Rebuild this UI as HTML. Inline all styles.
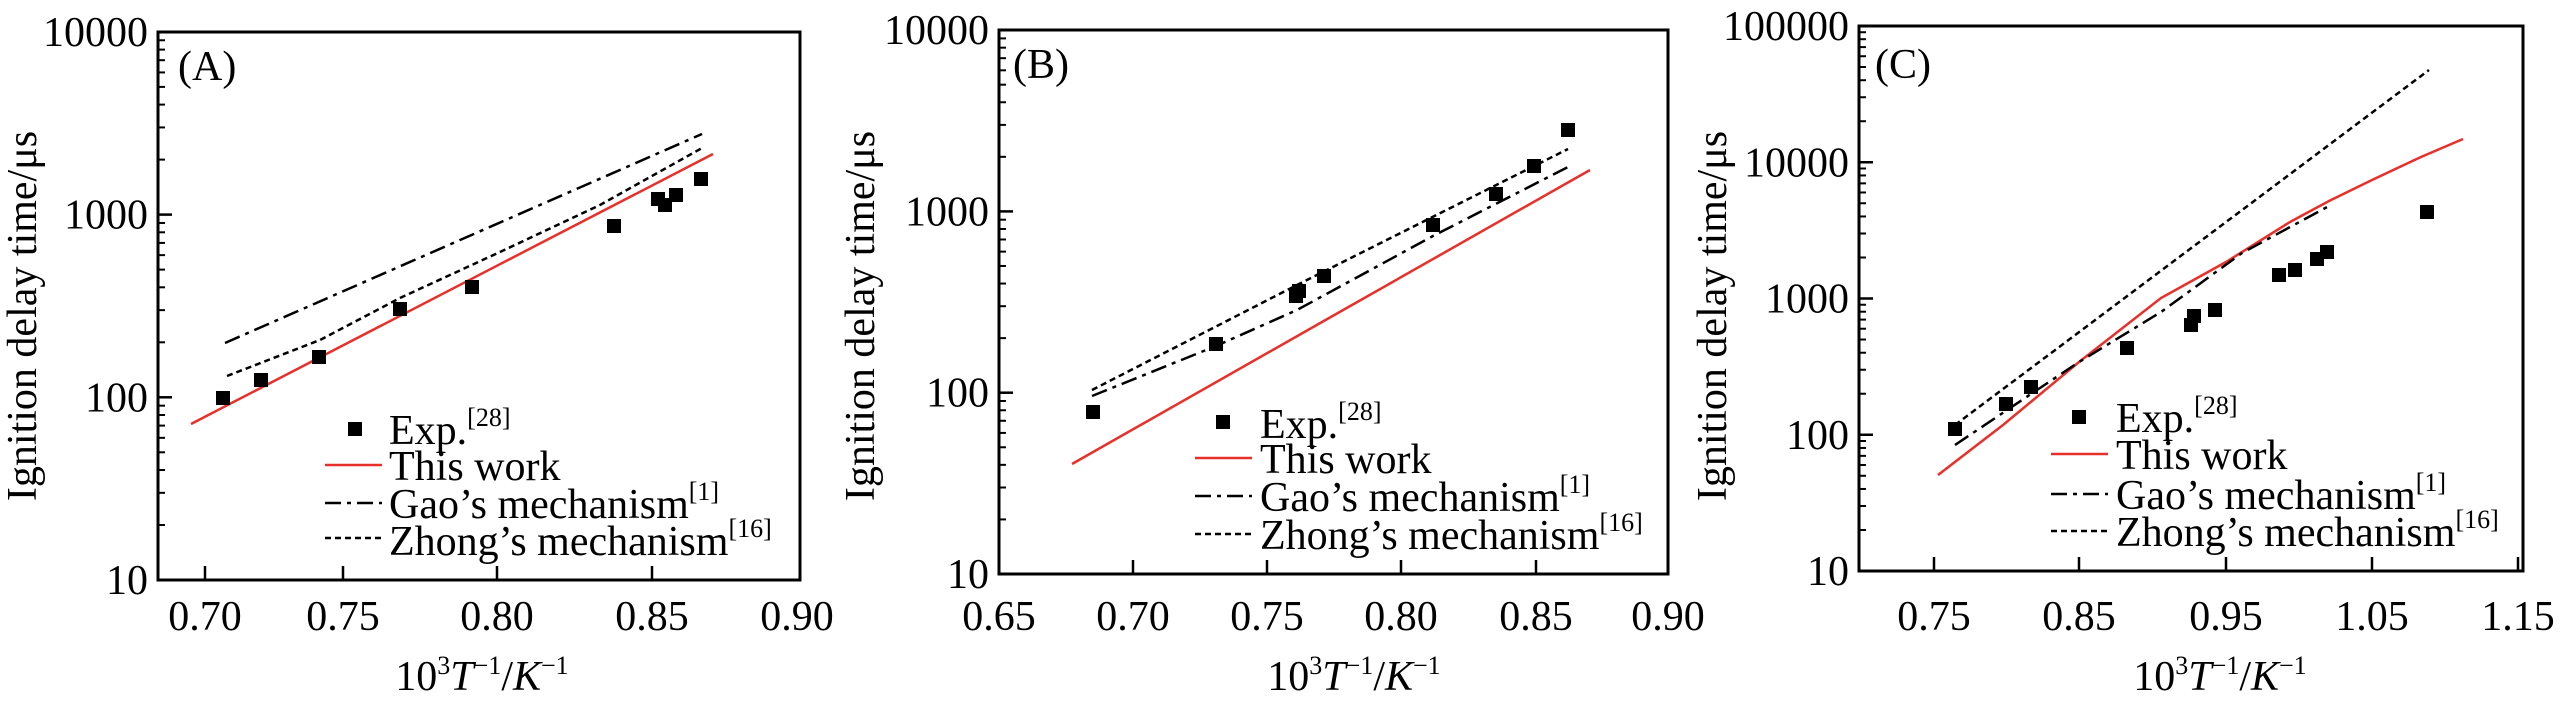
<!DOCTYPE html>
<html><head><meta charset="utf-8"><style>
html,body{margin:0;padding:0;background:#fff;}
svg{display:block;font-family:"Liberation Serif","DejaVu Serif",serif;}
</style></head><body>
<svg id="s" width="2567" height="709" viewBox="0 0 2567 709" xmlns="http://www.w3.org/2000/svg">
<g font-size="42" fill="#000">
<!-- Panel A -->
<rect x="158" y="32" width="642" height="548" fill="none" stroke="#000" stroke-width="3"/>
<text x="178" y="80">(A)</text>
<polyline points="191,424 713,154" fill="none" stroke="#e8302a" stroke-width="2.5"/>
<polyline points="225,343 702,134" fill="none" stroke="#000" stroke-width="2.5" stroke-dasharray="16,6,4,6"/>
<polyline points="227,376 320,340 400,298 500,252 600,205 702,148" fill="none" stroke="#000" stroke-width="2.5" stroke-dasharray="6,4"/>
<rect x="348" y="422" width="14" height="14"/>
<text x="389" y="444">Exp.<tspan font-size="26" dy="-18">[28]</tspan></text>
<line x1="325" y1="465" x2="382" y2="465" stroke="#e8302a" stroke-width="2.5"/>
<text x="389" y="480">This work</text>
<line x1="325" y1="503" x2="382" y2="503" stroke="#000" stroke-width="2.5" stroke-dasharray="16,6,4,6"/>
<text x="389" y="518">Gao’s mechanism<tspan font-size="26" dy="-18">[1]</tspan></text>
<line x1="325" y1="538" x2="382" y2="538" stroke="#000" stroke-width="2.5" stroke-dasharray="6,4"/>
<text x="389" y="555">Zhong’s mechanism<tspan font-size="26" dy="-18">[16]</tspan></text>
<text transform="translate(36,316) rotate(-90)" text-anchor="middle">Ignition delay time/μs</text>
<text x="482" y="690" text-anchor="middle">10<tspan font-size="26" dy="-16">3</tspan><tspan dy="16" font-style="italic">T</tspan><tspan font-size="26" dy="-16">−1</tspan><tspan dy="16">/</tspan><tspan font-style="italic">K</tspan><tspan font-size="26" dy="-16">−1</tspan></text>

<!-- Panel B -->
<rect x="999" y="30" width="669" height="544" fill="none" stroke="#000" stroke-width="3"/>
<text x="1013" y="78">(B)</text>
<polyline points="1072,464 1322,322 1590,170" fill="none" stroke="#e8302a" stroke-width="2.5"/>
<polyline points="1092,396 1216,346 1297,310 1433,236 1568,167" fill="none" stroke="#000" stroke-width="2.5" stroke-dasharray="16,6,4,6"/>
<polyline points="1092,390 1297,285 1568,149" fill="none" stroke="#000" stroke-width="2.5" stroke-dasharray="6,4"/>
<rect x="1216" y="415" width="14" height="14"/>
<text x="1260" y="438">Exp.<tspan font-size="26" dy="-18">[28]</tspan></text>
<line x1="1195" y1="458" x2="1252" y2="458" stroke="#e8302a" stroke-width="2.5"/>
<text x="1260" y="473">This work</text>
<line x1="1195" y1="496" x2="1252" y2="496" stroke="#000" stroke-width="2.5" stroke-dasharray="16,6,4,6"/>
<text x="1260" y="511">Gao’s mechanism<tspan font-size="26" dy="-18">[1]</tspan></text>
<line x1="1195" y1="534" x2="1252" y2="534" stroke="#000" stroke-width="2.5" stroke-dasharray="6,4"/>
<text x="1260" y="549">Zhong’s mechanism<tspan font-size="26" dy="-18">[16]</tspan></text>
<text transform="translate(874,316) rotate(-90)" text-anchor="middle">Ignition delay time/μs</text>
<text x="1354" y="690" text-anchor="middle">10<tspan font-size="26" dy="-16">3</tspan><tspan dy="16" font-style="italic">T</tspan><tspan font-size="26" dy="-16">−1</tspan><tspan dy="16">/</tspan><tspan font-style="italic">K</tspan><tspan font-size="26" dy="-16">−1</tspan></text>

<!-- Panel C -->
<rect x="1859" y="26" width="664" height="545" fill="none" stroke="#000" stroke-width="3"/>
<text x="1875" y="78">(C)</text>
<polyline points="1938,475 2003,425 2079,362 2161,298 2226,262 2290,222 2329,201 2372,180 2421,157 2463,139" fill="none" stroke="#e8302a" stroke-width="2.5"/>
<polyline points="1955,445 2025,398 2079,362 2161,312 2242,253 2329,206" fill="none" stroke="#000" stroke-width="2.5" stroke-dasharray="16,6,4,6"/>
<polyline points="1955,425 2429,70" fill="none" stroke="#000" stroke-width="2.5" stroke-dasharray="6,4"/>
<rect x="2072" y="410" width="14" height="14"/>
<text x="2116" y="432">Exp.<tspan font-size="26" dy="-18">[28]</tspan></text>
<line x1="2051" y1="454" x2="2108" y2="454" stroke="#e8302a" stroke-width="2.5"/>
<text x="2116" y="469">This work</text>
<line x1="2051" y1="494" x2="2108" y2="494" stroke="#000" stroke-width="2.5" stroke-dasharray="16,6,4,6"/>
<text x="2116" y="509">Gao’s mechanism<tspan font-size="26" dy="-18">[1]</tspan></text>
<line x1="2051" y1="531" x2="2108" y2="531" stroke="#000" stroke-width="2.5" stroke-dasharray="6,4"/>
<text x="2116" y="546">Zhong’s mechanism<tspan font-size="26" dy="-18">[16]</tspan></text>
<text transform="translate(1726,316) rotate(-90)" text-anchor="middle">Ignition delay time/μs</text>
<text x="2220" y="690" text-anchor="middle">10<tspan font-size="26" dy="-16">3</tspan><tspan dy="16" font-style="italic">T</tspan><tspan font-size="26" dy="-16">−1</tspan><tspan dy="16">/</tspan><tspan font-style="italic">K</tspan><tspan font-size="26" dy="-16">−1</tspan></text>
<g id="gen"></g>
</g>
</svg>
<script>
(function(){
var NS="http://www.w3.org/2000/svg",g=document.getElementById("gen");
function el(t,a,txt){var e=document.createElementNS(NS,t);for(var k in a)e.setAttribute(k,a[k]);if(txt!==undefined)e.textContent=txt;g.appendChild(e);return e;}
function sq(x,y){el("rect",{x:x-7,y:y-7,width:14,height:14});}
var P=[
 {l:158,r:800,t:32,b:580,D:182.7,labs:["10","100","1000","10000"],xt:[[205,"0.70"],[343,"0.75"],[497,"0.80"],[652,"0.85"],[797,"0.90"]],
  pts:[[223,398],[261,380],[319,357],[400,309],[472,287],[614,226],[658,199],[665,205],[676,195],[701,179]]},
 {l:999,r:1668,t:30,b:574,D:181.3,labs:["10","100","1000","10000"],xt:[[999,"0.65"],[1133,"0.70"],[1267,"0.75"],[1401,"0.80"],[1536,"0.85"],[1668,"0.90"]],
  pts:[[1093,412],[1216,344],[1296,296],[1299,291],[1324,276],[1433,225],[1496,194],[1534,166],[1568,130]]},
 {l:1859,r:2523,t:26,b:571,D:136.25,labs:["10","100","1000","10000","100000"],xt:[[1934,"0.75"],[2079,"0.85"],[2226,"0.95"],[2372,"1.05"],[2518,"1.15"]],
  pts:[[1955,429],[2006,404],[2031,387],[2127,348],[2191,325],[2194,316],[2215,310],[2279,275],[2295,270],[2317,259],[2327,252],[2427,212]]}
];
P.forEach(function(p){
 p.labs.forEach(function(s,i){var y=p.b-i*p.D;
  el("text",{x:p.l-10,y:y+14,"text-anchor":"end"},s);
  if(i>0&&i<p.labs.length-1)el("line",{x1:p.l,y1:y,x2:p.l+14,y2:y,stroke:"#000","stroke-width":2.5});
  if(i<p.labs.length-1)for(var m=2;m<=9;m++){var yy=y-p.D*Math.log10(m);el("line",{x1:p.l,y1:yy,x2:p.l+7,y2:yy,stroke:"#000","stroke-width":2});}
 });
 p.xt.forEach(function(t){el("text",{x:t[0],y:630,"text-anchor":"middle"},t[1]);
  if(t[0]>p.l+3&&t[0]<p.r-3)el("line",{x1:t[0],y1:p.b,x2:t[0],y2:p.b-14,stroke:"#000","stroke-width":2.5});});
 p.pts.forEach(function(q){sq(q[0],q[1]);});
});
})();
</script>
</body></html>
